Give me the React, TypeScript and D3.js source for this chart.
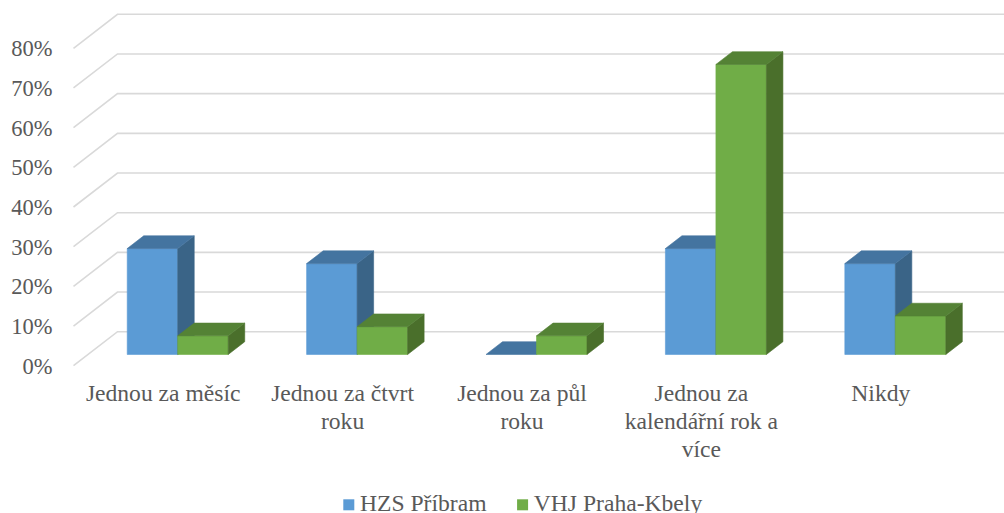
import { useEffect, useRef } from "react";
import * as d3 from "d3";

const categories = [
  "Jednou za měsíc",
  "Jednou za čtvrt roku",
  "Jednou za půl roku",
  "Jednou za kalendářní rok a více",
  "Nikdy",
];
const seriesNames = ["HZS Příbram", "VHJ Praha-Kbely"];
const hzsValues = [0.267, 0.229, 0, 0.267, 0.229];
const vhjValues = [0.047, 0.07, 0.047, 0.731, 0.097];
const yTicks = [0, 0.1, 0.2, 0.3, 0.4, 0.5, 0.6, 0.7, 0.8];

const FONT = "Liberation Serif";
const TEXT = "#595959";

// front face, top face, side face
const palette = [
  { front: "#5b9bd5", top: "#4474a0", side: "#3a6487" },
  { front: "#70ad47", top: "#548235", side: "#4a6f2b" },
];

export default function App() {
  const ref = useRef<SVGSVGElement>(null);

  useEffect(() => {
    document.body.style.margin = "0";
    const svg = d3.select(ref.current);
    svg.selectAll("*").remove();

    // oblique 3D projection: depth goes up and to the right
    const DX = 44;
    const DY = -34;
    const x = d3.scaleBand<string>().domain(categories).range([73.5, 970.5]);
    const y = d3.scaleLinear().domain([0, 0.8]).range([365.7, 48.3]);
    const proj = (xf: number, v: number, f: number): [number, number] => [
      xf + f * DX,
      y(v) + f * DY,
    ];
    const line = d3.line();

    // gridlines: left wall diagonal + back wall horizontal
    svg
      .append("g")
      .selectAll("path")
      .data(yTicks)
      .enter()
      .append("path")
      .attr("d", (t) =>
        line([proj(73.5, t, 0), proj(73.5, t, 1), proj(1100, t, 1)])
      )
      .attr("fill", "none")
      .attr("stroke", "#d9d9d9")
      .attr("stroke-width", 1.6);

    // y axis labels
    svg
      .append("g")
      .selectAll("text")
      .data(yTicks)
      .enter()
      .append("text")
      .attr("x", 52.5)
      .attr("y", (t) => y(t))
      .attr("dy", "0.35em")
      .attr("text-anchor", "end")
      .attr("font-family", FONT)
      .attr("font-size", 22.5)
      .attr("fill", TEXT)
      .text((t) => d3.format(".0%")(t));

    // bars
    const f0 = 0.33;
    const f1 = 0.705;
    const barW = 50.5;
    const bars = svg.append("g");
    categories.forEach((c, i) => {
      const center = (x(c) as number) + x.bandwidth() / 2;
      [hzsValues[i], vhjValues[i]].forEach((v, s) => {
        const xl = center - barW + s * barW;
        const xr = xl + barW;
        const col = palette[s];
        const poly = (pts: [number, number][]) =>
          bars
            .append("path")
            .attr("d", line(pts) + "Z")
            .attr("stroke-width", 0.6)
            .attr("stroke-linejoin", "round");
        if (v > 0) {
          poly([proj(xl, 0, f0), proj(xr, 0, f0), proj(xr, v, f0), proj(xl, v, f0)])
            .attr("fill", col.front)
            .attr("stroke", col.front);
          poly([proj(xr, 0, f0), proj(xr, 0, f1), proj(xr, v, f1), proj(xr, v, f0)])
            .attr("fill", col.side)
            .attr("stroke", col.side);
        }
        poly([proj(xl, v, f0), proj(xr, v, f0), proj(xr, v, f1), proj(xl, v, f1)])
          .attr("fill", col.top)
          .attr("stroke", col.top);
      });
    });

    // category labels, wrapped
    const maxW = 170;
    const labels = svg.append("g");
    categories.forEach((c) => {
      const cx = (x(c) as number) + x.bandwidth() / 2;
      const t = labels
        .append("text")
        .attr("text-anchor", "middle")
        .attr("font-family", FONT)
        .attr("font-size", 23.6)
        .attr("fill", TEXT);
      const words = c.split(" ");
      let cur: string[] = [];
      let lineNo = 0;
      let tspan = t.append("tspan").attr("x", cx).attr("y", 401);
      words.forEach((w) => {
        cur.push(w);
        tspan.text(cur.join(" "));
        if ((tspan.node() as SVGTSpanElement).getComputedTextLength() > maxW && cur.length > 1) {
          cur.pop();
          tspan.text(cur.join(" "));
          cur = [w];
          lineNo++;
          tspan = t
            .append("tspan")
            .attr("x", cx)
            .attr("y", 401 + lineNo * 28)
            .text(w);
        }
      });
    });

    // legend
    const legend = svg.append("g");
    let lx = 343.3;
    seriesNames.forEach((name, s) => {
      legend
        .append("rect")
        .attr("x", lx)
        .attr("y", 499.3)
        .attr("width", 11)
        .attr("height", 11)
        .attr("fill", palette[s].front);
      const txt = legend
        .append("text")
        .attr("x", lx + 16.7)
        .attr("y", 511)
        .attr("font-family", FONT)
        .attr("font-size", 23.6)
        .attr("fill", TEXT)
        .text(name);
      const w = (txt.node() as SVGTextElement).getComputedTextLength();
      lx = lx + 16.7 + w + 30.6;
    });
  }, []);

  return (
    <svg
      ref={ref}
      width={1004}
      height={513}
      fontFamily={FONT}
      style={{ display: "block", background: "#fff" }}
    />
  );
}
